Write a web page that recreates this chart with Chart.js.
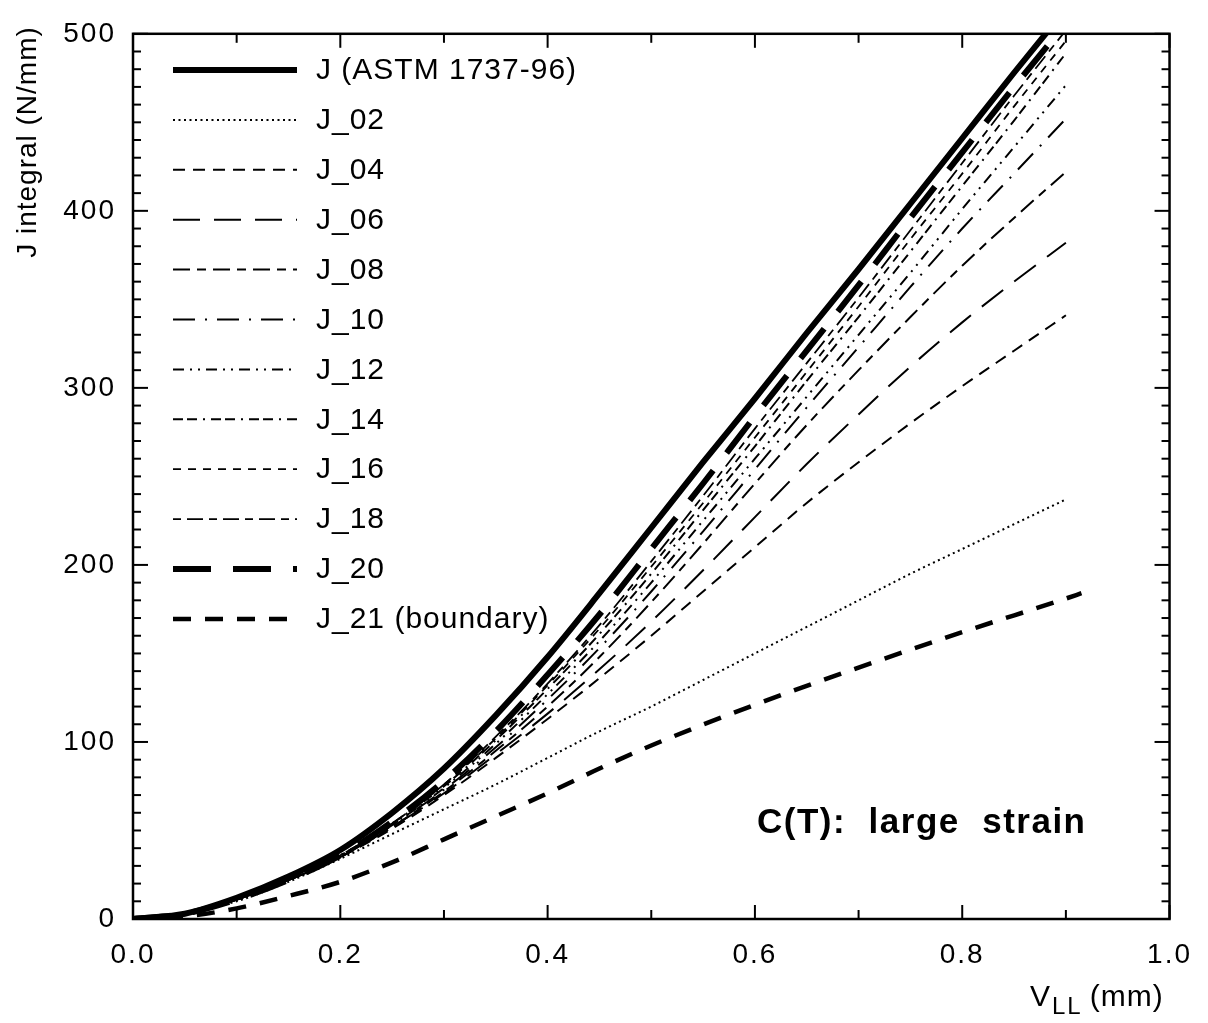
<!DOCTYPE html>
<html>
<head>
<meta charset="utf-8">
<script src="https://cdn.jsdelivr.net/npm/chart.js@4.4.1/dist/chart.umd.min.js"></script>
<style>
  body { margin: 0; background: #fff; }
  #wrap { width: 1208px; height: 1023px; position: relative; }
</style>
</head>
<body>
<div id="wrap"><canvas id="myChart"></canvas></div>
<script>
// load line displacement grid (mm)
var vll = [0, 0.05, 0.1, 0.15, 0.2, 0.25, 0.3, 0.35, 0.4, 0.45, 0.5, 0.55, 0.6, 0.65, 0.7, 0.75, 0.8, 0.85, 0.9];
// J integral values (N/mm)
var jAstm = [0, 3, 12, 24, 39, 60, 85, 115, 148, 184, 221, 258, 294, 331, 367, 404, 441, 478, 514];
var j02 = [0, 3, 10, 21, 34, 48, 62, 76, 91, 106, 120, 135, 150, 165, 180, 195, 209, 223, 237];
var j04 = [0, 3, 11, 22, 35, 51, 70, 91, 113, 136, 160, 185, 210, 235, 258, 280, 301, 321, 341];
var j06 = [0, 3, 11, 22, 35, 52, 71, 93, 116, 141, 168, 197, 227, 257, 285, 312, 337, 360, 382];
var j08 = [0, 3, 11, 22, 35, 52, 72, 95, 120, 148, 179, 212, 246, 279, 310, 340, 369, 396, 422];
var j10 = [0, 3, 11, 22, 35, 53, 73, 97, 124, 153, 185, 219, 254, 289, 323, 357, 390, 421, 452];
var j12 = [0, 3, 11, 22, 35, 53, 74, 99, 127, 157, 190, 225, 260, 295, 330, 365, 401, 436, 471];
var j14 = [0, 3, 11, 22, 36, 54, 75, 101, 130, 161, 195, 231, 267, 304, 340, 377, 414, 451, 489];
var j16 = [0, 3, 11, 22, 36, 54, 76, 102, 132, 164, 199, 235, 272, 309, 346, 384, 421, 459, 496];
var j18 = [0, 3, 11, 22, 36, 54, 76, 103, 133, 166, 202, 239, 277, 314, 351, 389, 427, 465, 502];
var j20 = [0, 3, 11, 22, 36, 55, 78, 106, 138, 172, 209, 246, 284, 321, 358, 396, 433, 470, 506];
// boundary curve has its own grid, runs a bit further
var vll21 = [0, 0.05, 0.1, 0.15, 0.2, 0.25, 0.3, 0.35, 0.4, 0.45, 0.5, 0.6, 0.7, 0.8, 0.9, 0.915];
var j21 = [0, 1.5, 6, 13, 21, 32, 45, 58, 71, 85, 98, 121, 142, 162, 181, 184];

var seriesNames = ['J (ASTM 1737-96)', 'J_02', 'J_04', 'J_06', 'J_08', 'J_10', 'J_12', 'J_14', 'J_16', 'J_18', 'J_20', 'J_21 (boundary)'];
var xTickLabels = ['0.0', '0.2', '0.4', '0.6', '0.8', '1.0'];
var yTickLabels = ['0', '100', '200', '300', '400', '500'];

const FONT = '"Liberation Sans", Arial, Helvetica, sans-serif';

function pts(xs, ys) {
    return xs.map(function (x, i) { return { x: x, y: ys[i] }; });
}

// line styles: [width, dash]
var styles = [
    [6, []],
    [2, [2, 3.5]],
    [2, [12, 8]],
    [2, [27, 14]],
    [2, [17, 7, 9, 7]],
    [2, [22, 10, 2, 10]],
    [2, [11, 6, 2, 6, 2, 6]],
    [2, [10, 4, 10, 6, 2, 6]],
    [1.8, [8, 7]],
    [1.8, [8, 6, 16, 6]],
    [6, [38, 22]],
    [4.5, [18, 14]]
];
var series = [jAstm, j02, j04, j06, j08, j10, j12, j14, j16, j18, j20, j21];

var datasets = series.map(function (ys, i) {
    return {
        label: seriesNames[i],
        data: i === 11 ? pts(vll21, ys) : pts(vll, ys),
        borderColor: '#000',
        borderWidth: styles[i][0],
        borderDash: styles[i][1],
        pointRadius: 0,
        fill: false,
        cubicInterpolationMode: 'monotone',
        clip: 0
    };
});

function seg(ctx, x1, y1, x2, y2) {
    ctx.beginPath(); ctx.moveTo(x1, y1); ctx.lineTo(x2, y2); ctx.stroke();
}

const framePlugin = {
    id: 'frame',
    beforeDraw(chart) {
        chart.ctx.letterSpacing = '2px';
    },
    afterDatasetsDraw(chart) {
        const ctx = chart.ctx, a = chart.chartArea;
        const xs = chart.scales.x, ys = chart.scales.y;
        ctx.save();
        ctx.strokeStyle = '#000';
        ctx.setLineDash([]);
        ctx.lineWidth = 2.5;
        ctx.strokeRect(a.left, a.top, a.right - a.left, a.bottom - a.top);
        ctx.lineWidth = 2;
        // inward ticks, x every 0.1 and y every 10
        for (let k = 0; k <= 10; k++) {
            const px = xs.getPixelForValue(k / 10);
            const len = k % 2 === 0 ? 14 : 9;
            seg(ctx, px, a.bottom, px, a.bottom - len);
            seg(ctx, px, a.top, px, a.top + len);
        }
        for (let k = 0; k <= 50; k++) {
            const py = ys.getPixelForValue(k * 10);
            const len = k % 10 === 0 ? 15 : 8;
            seg(ctx, a.left, py, a.left + len, py);
            seg(ctx, a.right, py, a.right - len, py);
        }

        // legend
        ctx.fillStyle = '#000';
        ctx.textAlign = 'left';
        ctx.textBaseline = 'middle';
        ctx.font = '30px ' + FONT;
        ctx.letterSpacing = '1px';
        chart.data.datasets.forEach(function (ds, i) {
            const y = 70 + i * 49.9;
            ctx.lineWidth = ds.borderWidth;
            ctx.setLineDash(ds.borderDash);
            seg(ctx, 173, y, 297, y);
            ctx.setLineDash([]);
            ctx.fillText(ds.label, 316, y + 1);
        });

        // annotation
        ctx.font = 'bold 35px ' + FONT;
        ctx.letterSpacing = '1.5px';
        ctx.textBaseline = 'alphabetic';
        ctx.fillText('C(T):  large  strain', 757, 833);

        // x title with subscript
        ctx.font = '30px ' + FONT;
        ctx.letterSpacing = '1px';
        let x = 1030;
        ctx.fillText('V', x, 1006);
        x += ctx.measureText('V').width;
        ctx.font = '24px ' + FONT;
        ctx.letterSpacing = '2px';
        ctx.fillText('LL', x + 1, 1014);
        x += ctx.measureText('LL').width + 8;
        ctx.font = '30px ' + FONT;
        ctx.letterSpacing = '1px';
        ctx.fillText('(mm)', x, 1006);

        // y title
        ctx.translate(28, 142);
        ctx.rotate(-Math.PI / 2);
        ctx.textAlign = 'center';
        ctx.textBaseline = 'middle';
        ctx.font = '28px ' + FONT;
        ctx.letterSpacing = '1px';
        ctx.fillText('J integral (N/mm)', 0, 0);
        ctx.restore();
    }
};

var ctx = document.getElementById('myChart').getContext('2d');
var myChart = new Chart(ctx, {
    type: 'line',
    data: { datasets: datasets },
    options: {
        responsive: true,
        maintainAspectRatio: false,
        animation: false,
        events: [],
        layout: { padding: { top: 25, right: 31, left: 0, bottom: 0 } },
        plugins: { legend: { display: false }, tooltip: { enabled: false } },
        scales: {
            x: {
                type: 'linear', min: 0, max: 1,
                grid: { display: false, drawTicks: false },
                border: { display: false },
                afterFit: function (s) { s.height = 104; },
                afterBuildTicks: function (s) {
                    s.ticks = xTickLabels.map(function (t) { return { value: parseFloat(t) }; });
                },
                ticks: {
                    color: '#000', padding: 19, maxRotation: 0, autoSkip: false,
                    font: { family: FONT, size: 28 },
                    callback: function (v) {
                        var i = xTickLabels.indexOf(v.toFixed(1));
                        return i >= 0 ? xTickLabels[i] : '';
                    }
                }
            },
            y: {
                type: 'linear', min: 0, max: 500,
                grid: { display: false, drawTicks: false },
                border: { display: false },
                afterFit: function (s) { s.width = 133; },
                afterBuildTicks: function (s) {
                    s.ticks = yTickLabels.map(function (t) { return { value: parseFloat(t) }; });
                },
                ticks: {
                    color: '#000', padding: 17, autoSkip: false,
                    font: { family: FONT, size: 28 },
                    callback: function (v) {
                        var i = yTickLabels.indexOf(String(v));
                        return i >= 0 ? yTickLabels[i] : '';
                    }
                }
            }
        }
    },
    plugins: [framePlugin]
});
</script>
</body>
</html>
